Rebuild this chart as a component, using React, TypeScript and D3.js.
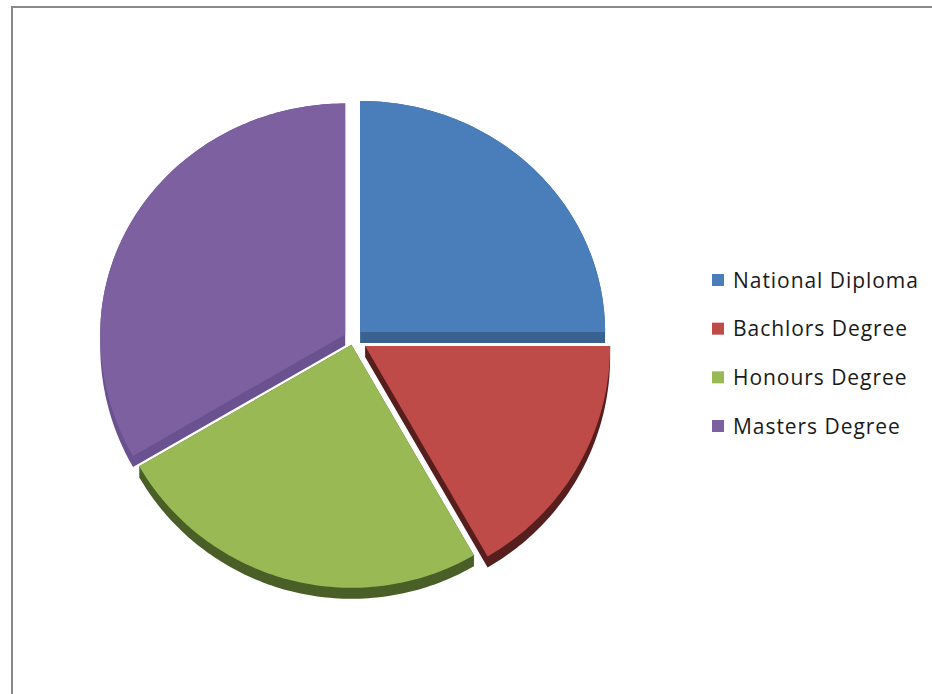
import React from "react";
import * as d3 from "d3";

const categories = ["National Diploma", "Bachlors Degree", "Honours Degree", "Masters Degree"];
const values = [6, 4, 6, 8];
const faceColors = ["#4A7EBB", "#BE4B48", "#98B954", "#7D60A0"];
const sideColors = ["#3A6291", "#561E1D", "#4A5E27", "#6A5190"];
const explode = [10, 14, 6, 9];

const W = 932;
const H = 694;
const cx = 353;
const cy = 339;
const rx = 245;
const ryTop = 231;
const ryBot = 243;
const depth = 11;

function proj(theta: number, r: number): [number, number] {
  const c = Math.cos(theta);
  const ry = c > 0 ? ryTop : ryBot;
  return [rx * r * Math.sin(theta), -c * ry * r];
}

export default function App() {
  const arcs = d3.pie<number>().sort(null).startAngle(0).endAngle(2 * Math.PI)(values);

  const slices = arcs.map((a, i) => {
    const mid = (a.startAngle + a.endAngle) / 2;
    const ox = cx + Math.sin(mid) * explode[i];
    const oy = cy - Math.cos(mid) * explode[i];
    const n = Math.max(8, Math.ceil(((a.endAngle - a.startAngle) * 180) / Math.PI));
    const pts: [number, number][] = [[ox, oy]];
    for (let k = 0; k <= n; k++) {
      const t = a.startAngle + ((a.endAngle - a.startAngle) * k) / n;
      const p = proj(t, 1);
      pts.push([ox + p[0], oy + p[1]]);
    }
    const shifted = pts.map(([x, y]) => [x, y + depth] as [number, number]);
    const hull = d3.polygonHull([...pts, ...shifted]) || [];
    const line = d3.line().curve(d3.curveLinearClosed);
    return { i, face: line(pts) || "", side: line(hull) || "" };
  });

  const order = [3, 0, 2, 1];
  const legendY = d3.scalePoint<string>().domain(categories).range([280, 426]);

  return (
    <svg
      width={W}
      height={H}
      style={{ position: "absolute", left: 0, top: 0, background: "#fff" }}
    >
      <rect x={12} y={7} width={W + 20} height={H + 20} fill="#fff" stroke="#898989" strokeWidth={2} />
      {order.map((i) => (
        <g key={i}>
          <path d={slices[i].side} fill={sideColors[i]} />
          <path d={slices[i].face} fill={faceColors[i]} />
        </g>
      ))}
      {categories.map((c, i) => (
        <g key={c} transform={`translate(712,${legendY(c)})`}>
          <rect x={0} y={-6} width={12} height={12} fill={faceColors[i]} />
          <text
            x={21}
            y={0}
            dy="0.36em"
            fontFamily="'Open Sans', sans-serif"
            fontSize={21}
            letterSpacing={0.95}
            fill="#1a1a1a"
          >
            {c}
          </text>
        </g>
      ))}
    </svg>
  );
}
